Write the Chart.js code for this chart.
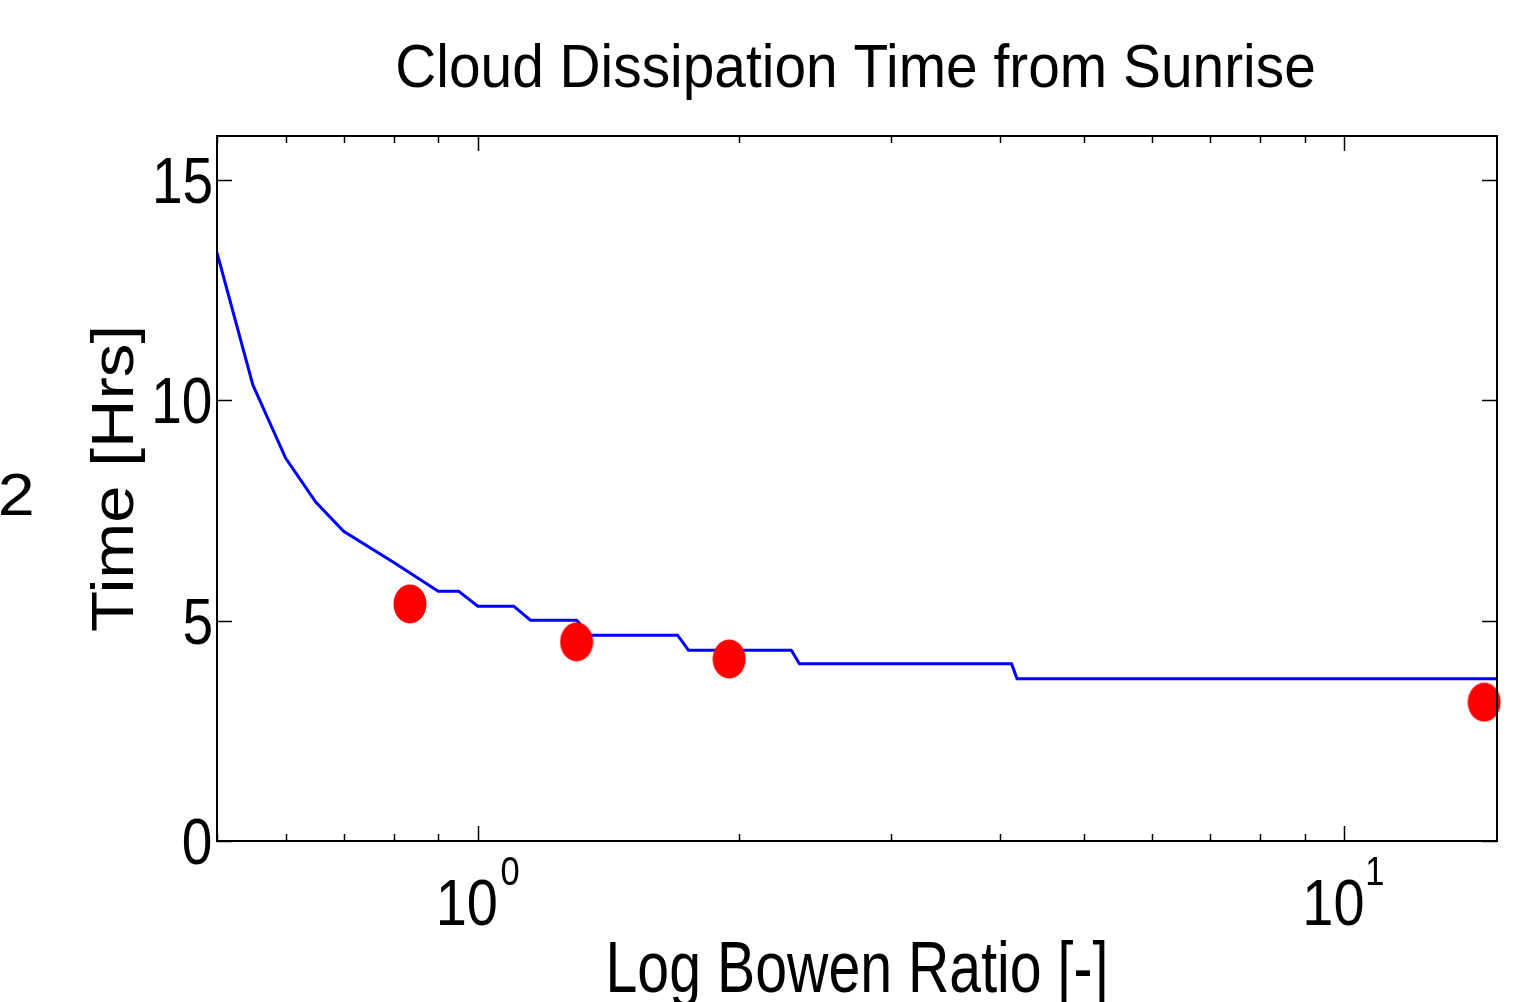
<!DOCTYPE html>
<html>
<head>
<meta charset="utf-8">
<script src="https://cdn.jsdelivr.net/npm/chart.js@4.4.1/dist/chart.umd.min.js"></script>
<style>
  html, body { margin: 0; padding: 0; background: #fff; }
</style>
</head>
<body>
<canvas id="grafico" width="1532" height="1002"></canvas>
<script>
/* ===============================
   DADOS
================================ */

// curva modelada (razão de Bowen x tempo)
const bowenCurva = [0.5, 0.55, 0.60, 0.65, 0.70, 0.80, 0.90, 0.95, 1.0, 1.10, 1.15, 1.30, 1.35, 1.70, 1.75, 2.30, 2.35, 4.13, 4.19, 15];
const tempoCurva = [13.35, 10.35, 8.69, 7.69, 7.03, 6.32, 5.67, 5.67, 5.33, 5.33, 5.01, 5.01, 4.67, 4.67, 4.33, 4.33, 4.02, 4.02, 3.68, 3.68];

// observações
const bowenObs = [0.835, 1.30, 1.95, 14.5];
const tempoObs = [5.38, 4.52, 4.13, 3.15];

// eixos
const yTicks = [0, 5, 10, 15];
const xMaiores = [1, 10];
const xRotulos = [['10', '0'], ['10', '1']];
const xMenores = [0.5, 0.6, 0.7, 0.8, 0.9, 2, 3, 4, 5, 6, 7, 8, 9];

const titulo = 'Cloud Dissipation Time from Sunrise';
const tituloX = 'Log Bowen Ratio [-]';
const tituloY = 'Time [Hrs]';
const textoSolto = '2';

/* ===============================
   MARCADOR ELÍPTICO
================================ */

const ponto = document.createElement('canvas');
ponto.width = 34;
ponto.height = 40;
{
  const c = ponto.getContext('2d');
  c.fillStyle = '#ff0000';
  c.beginPath();
  c.ellipse(17, 20, 16.5, 19.5, 0, 0, Math.PI * 2);
  c.fill();
}

const FONTE = '"Liberation Sans", Arial, Helvetica, sans-serif';

// escreve texto com largura de tinta definida (compressão horizontal)
function escrever(ctx, s, x, y, tam, alinhar, largura, sxFixo) {
  ctx.save();
  ctx.font = `${tam}px ${FONTE}`;
  ctx.textBaseline = 'alphabetic';
  ctx.textAlign = 'left';
  const m = ctx.measureText(s);
  const tinta = m.actualBoundingBoxLeft + m.actualBoundingBoxRight;
  const sx = sxFixo || (largura / tinta);
  const w = tinta * sx;
  let x0 = x;
  if (alinhar === 'center') x0 = x - w / 2;
  if (alinhar === 'right') x0 = x - w;
  ctx.translate(x0, y);
  ctx.scale(sx, 1);
  ctx.fillStyle = '#000';
  ctx.fillText(s, m.actualBoundingBoxLeft, 0);
  ctx.restore();
  return w;
}

/* ===============================
   MOLDURA, TICKS E TEXTOS
================================ */

const moldura = {
  id: 'moldura',
  afterDraw(chart) {
    const { ctx, chartArea: a } = chart;
    const xs = chart.scales.x;
    const ys = chart.scales.y;

    ctx.save();
    ctx.strokeStyle = '#000';
    ctx.lineWidth = 2;
    ctx.strokeRect(a.left, a.top, a.right - a.left, a.bottom - a.top);

    ctx.lineWidth = 1.5;
    ctx.beginPath();
    yTicks.forEach(v => {
      const py = Math.round(ys.getPixelForValue(v)) + 0.5;
      ctx.moveTo(a.left, py); ctx.lineTo(a.left + 15, py);
      ctx.moveTo(a.right, py); ctx.lineTo(a.right - 15, py);
    });
    xMenores.forEach(v => {
      const px = Math.round(xs.getPixelForValue(v)) + 0.5;
      ctx.moveTo(px, a.bottom); ctx.lineTo(px, a.bottom - 7);
      ctx.moveTo(px, a.top); ctx.lineTo(px, a.top + 7);
    });
    xMaiores.forEach(v => {
      const px = Math.round(xs.getPixelForValue(v)) + 0.5;
      ctx.moveTo(px, a.bottom); ctx.lineTo(px, a.bottom - 15);
      ctx.moveTo(px, a.top); ctx.lineTo(px, a.top + 15);
    });
    ctx.stroke();
    ctx.restore();

    // rótulos do eixo y
    yTicks.forEach(v => {
      const py = ys.getPixelForValue(v);
      escrever(ctx, String(v), a.left - 6, py + 23, 64, 'right', 0, 0.86);
    });

    // rótulos do eixo x (10^n)
    xMaiores.forEach((v, i) => {
      const px = xs.getPixelForValue(v);
      const [base, exp] = xRotulos[i];
      ctx.save();
      ctx.font = `65px ${FONTE}`;
      const wb = ctx.measureText(base).width * 0.86;
      ctx.font = `40px ${FONTE}`;
      const we = ctx.measureText(exp).width * 0.86;
      ctx.restore();
      const x0 = px - (wb + we) / 2 + 2;
      escrever(ctx, base, x0, 925, 65, 'left', 0, 0.86);
      escrever(ctx, exp, x0 + wb, 885, 40, 'left', 0, 0.86);
    });

    // títulos
    escrever(ctx, titulo, 856, 87, 61, 'center', 916);
    escrever(ctx, tituloX, 857, 992, 72, 'center', 495);

    ctx.save();
    ctx.translate(133, 480);
    ctx.rotate(-Math.PI / 2);
    escrever(ctx, tituloY, 0, 0, 60, 'center', 302);
    ctx.restore();

    escrever(ctx, textoSolto, 32, 515, 60, 'right', 31);
  }
};

/* ===============================
   GRÁFICO
================================ */

new Chart(document.getElementById('grafico'), {
  type: 'scatter',
  data: {
    datasets: [
      {
        label: 'Observado',
        data: bowenObs.map((x, i) => ({ x, y: tempoObs[i] })),
        pointStyle: ponto,
        pointRadius: 17,
        clip: false,
        showLine: false
      },
      {
        label: 'Modelo',
        data: bowenCurva.map((x, i) => ({ x, y: tempoCurva[i] })),
        showLine: true,
        borderColor: '#0000ff',
        borderWidth: 3,
        pointRadius: 0,
        tension: 0,
        fill: false
      }
    ]
  },
  options: {
    responsive: false,
    devicePixelRatio: 1,
    animation: false,
    layout: { padding: { left: 217, right: 35, top: 136, bottom: 161 } },
    plugins: {
      legend: { display: false },
      tooltip: { enabled: false }
    },
    scales: {
      x: { type: 'logarithmic', min: 0.5, max: 15, display: false },
      y: { type: 'linear', min: 0, max: 16, display: false }
    }
  },
  plugins: [moldura]
});
</script>
</body>
</html>
